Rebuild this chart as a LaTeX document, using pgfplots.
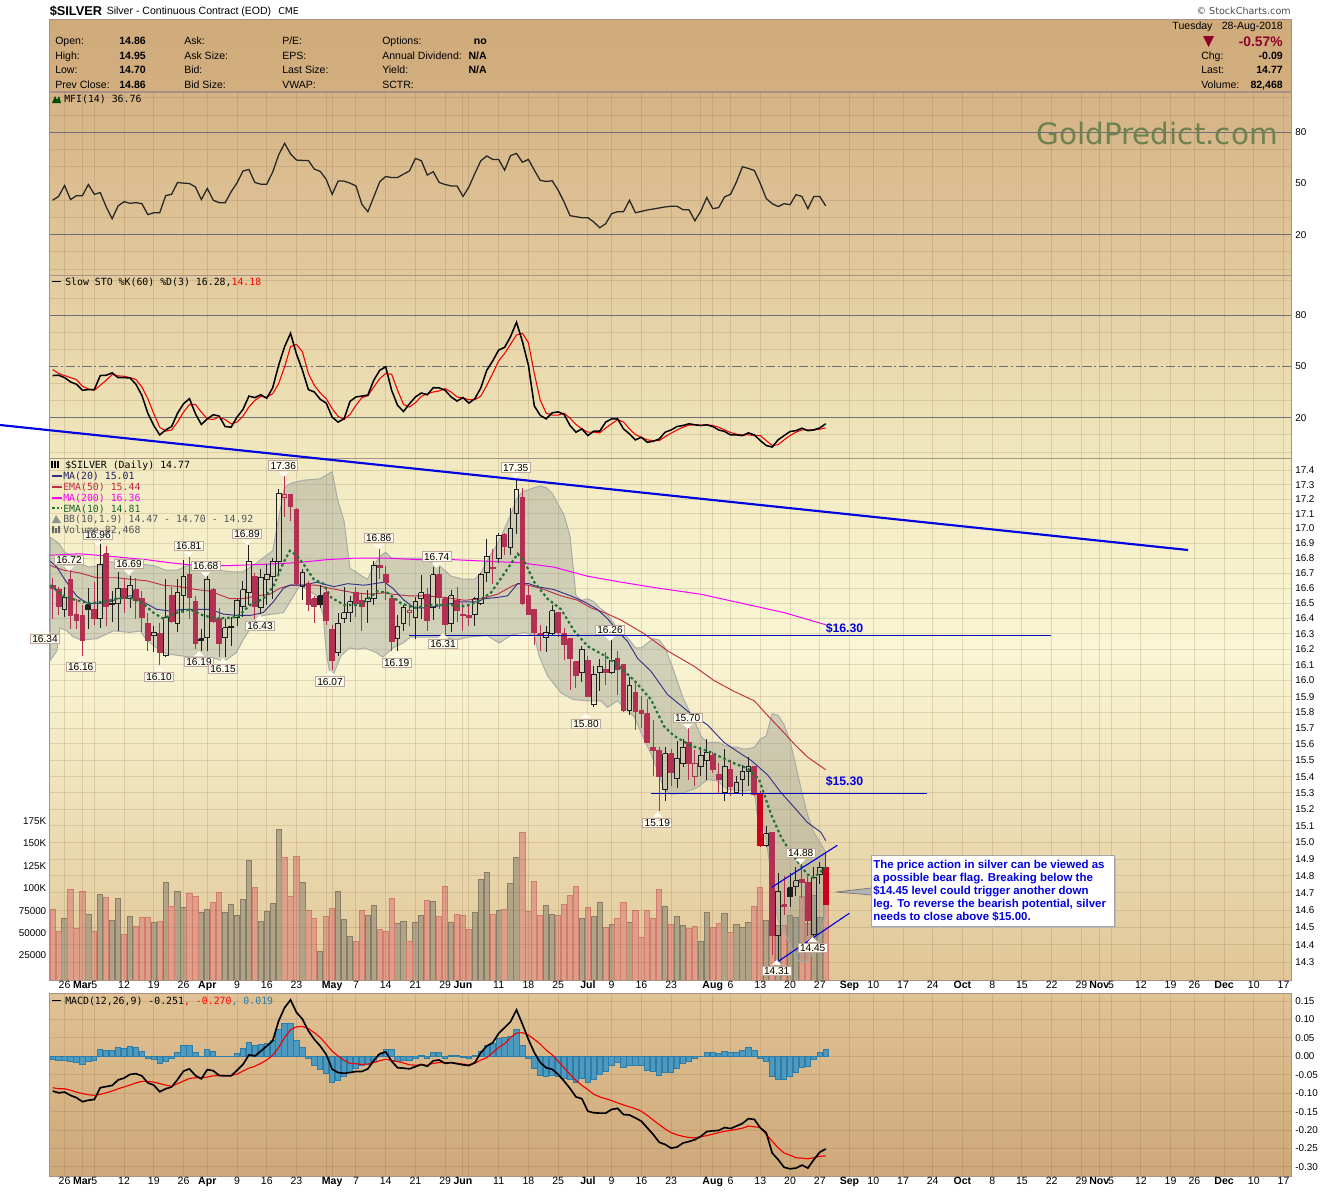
\documentclass[border=0pt]{standalone}
\usepackage{fontspec}
\setmainfont{Liberation Sans}
\newfontfamily\monof{DejaVu Sans Mono}
\newfontfamily\dvf{DejaVu Sans}
\usepackage{pgfplots}
\usepackage{pgfplotstable}
\pgfplotsset{compat=1.18}
\definecolor{framec}{RGB}{170,145,135}
\definecolor{gridc}{RGB}{125,95,60}
\definecolor{levelc}{RGB}{110,110,120}
\definecolor{candR}{RGB}{178,48,82}
\definecolor{candB}{RGB}{205,0,30}
\definecolor{candK}{RGB}{30,30,35}
\definecolor{volRf}{RGB}{222,155,135}
\definecolor{volRd}{RGB}{210,125,110}
\definecolor{volGf}{RGB}{172,160,132}
\definecolor{volGd}{RGB}{135,125,105}
\definecolor{bbf}{RGB}{140,148,140}
\definecolor{bbd}{RGB}{168,172,165}
\definecolor{histf}{RGB}{78,154,191}
\definecolor{histd}{RGB}{46,124,168}
\definecolor{ma20c}{RGB}{50,50,140}
\definecolor{ema50c}{RGB}{190,45,70}
\definecolor{emagr}{RGB}{35,115,55}
\definecolor{mag}{RGB}{250,0,250}
\definecolor{bluet}{RGB}{0,0,225}
\definecolor{levb}{RGB}{0,0,190}
\definecolor{callf}{RGB}{255,252,240}
\definecolor{calld}{RGB}{190,168,160}
\definecolor{crims}{RGB}{145,0,45}
\definecolor{wmark}{RGB}{110,130,80}

% i mfi k d macd signal hist
\pgfplotstableread{
i mfi k d macd sig hist
0 40.2 44.7 48.2 -0.094 -0.085 -0.009
1 42.5 44.9 45.9 -0.099 -0.088 -0.012
2 48.8 43.5 44.7 -0.097 -0.088 -0.011
3 40.6 41 43.5 -0.106 -0.092 -0.013
4 42.9 39.6 42.4 -0.112 -0.097 -0.016
5 42.9 36.1 38.4 -0.123 -0.101 -0.023
6 49.4 36.5 36.9 -0.119 -0.104 -0.014
7 43.7 36.5 36.1 -0.117 -0.106 -0.012
8 44.7 44.7 39 -0.085 -0.103 0.018
9 36.3 44.9 42 -0.082 -0.099 0.015
10 29.4 46.3 45.3 -0.079 -0.094 0.015
11 36.9 43.5 44.5 -0.064 -0.088 0.023
12 39.4 43.5 44.3 -0.059 -0.083 0.022
13 38.4 43.3 43.5 -0.049 -0.078 0.026
14 38.8 39.6 42.4 -0.047 -0.072 0.024
15 38.2 33.1 38 -0.053 -0.068 0.014
16 31.8 22.7 31.2 -0.072 -0.068 -0.005
17 32.9 15.5 22.4 -0.078 -0.070 -0.009
18 32.9 10 14.5 -0.096 -0.074 -0.020
19 42.9 12.9 12.2 -0.088 -0.078 -0.014
20 43.7 14.9 12.9 -0.083 -0.081 -0.006
21 50.6 22.7 17.5 -0.063 -0.074 0.011
22 50.2 28.2 23.3 -0.040 -0.067 0.029
23 50 31.2 27.8 -0.034 -0.060 0.029
24 48 22.4 27.8 -0.052 -0.058 0.011
25 40.6 16.1 23.3 -0.061 -0.059 -0.001
26 47.1 19.4 19.4 -0.036 -0.056 0.018
27 40.2 21.8 19 -0.039 -0.053 0.013
28 38.8 21 20.4 -0.052 -0.052 -0.001
29 38.8 14.9 19 -0.053 -0.052 -0.001
30 45.1 14.5 16.5 -0.053 -0.052 -0.001
31 50.4 20.4 17.5 -0.038 -0.048 0.009
32 57.3 24.9 21 -0.022 -0.040 0.021
33 58.2 32.7 26.3 0.004 -0.032 0.037
34 50.6 31.8 30.2 0.001 -0.027 0.030
35 49.6 33.5 32.5 0.014 -0.019 0.033
36 49.6 31.4 32.2 0.028 -0.010 0.034
37 56.7 37.6 34.1 0.042 0.003 0.042
38 66.7 50.8 40 0.096 0.024 0.072
39 73.5 61.6 49.8 0.132 0.051 0.088
40 67.3 69.4 61.6 0.153 0.072 0.088
41 63.7 57.3 62.9 0.119 0.080 0.044
42 63.5 47.8 58.6 0.101 0.081 0.024
43 63.5 36.5 45.9 0.069 0.075 -0.006
44 58.4 35.1 39 0.046 0.064 -0.025
45 57.1 30.8 34.5 0.028 0.051 -0.036
46 52.4 28.6 31.2 0.005 0.033 -0.047
47 43.7 20.4 25.3 -0.035 0.014 -0.071
48 51.4 17.5 20.8 -0.044 0.001 -0.065
49 51.4 19.4 19 -0.046 -0.011 -0.056
50 50.2 29.6 22 -0.044 -0.019 -0.043
51 48.6 32.2 27.3 -0.041 -0.020 -0.032
52 37.8 32.7 31.8 -0.041 -0.022 -0.025
53 33.5 33.3 32.9 -0.034 -0.021 -0.022
54 42.2 42 38 -0.011 -0.017 -0.014
55 51 47.8 42.9 0.007 -0.012 0.005
56 54.1 49.8 45.9 0.012 -0.008 0.018
57 53.5 36.1 45.5 -0.013 -0.011 0.018
58 53.5 27.3 36.1 -0.031 -0.014 -0.014
59 55.5 23.7 27.8 -0.032 -0.018 -0.012
60 57.3 28.2 26.3 -0.034 -0.023 -0.012
61 64.7 32.2 28.8 -0.028 -0.024 -0.007
62 63.3 34.5 32.5 -0.022 -0.023 0.003
63 54.9 33.5 34.1 -0.027 -0.024 -0.005
64 56.9 37.6 35.1 -0.012 -0.019 0.010
65 50.6 37.5 35.7 -0.010 -0.017 0.010
66 49.4 36.1 37.1 -0.019 -0.017 -0.005
67 48.6 32.2 35.1 -0.017 -0.017 0.003
68 48.6 29.8 32.2 -0.020 -0.019 0.002
69 42.4 31.8 31.6 -0.023 -0.021 -0.004
70 48 28.6 30.6 -0.025 -0.023 -0.006
71 55.9 31.2 30.6 -0.017 -0.019 0.001
72 63.3 37.5 32.7 0.010 -0.010 0.014
73 66.1 47.8 39 0.028 -0.004 0.030
74 64.1 53.3 45.9 0.037 0.010 0.034
75 64.1 59.6 53.3 0.062 0.024 0.048
76 57.8 61.2 57.6 0.078 0.034 0.050
77 66.3 67.5 63.1 0.094 0.051 0.053
78 67.6 75.9 68.4 0.126 0.063 0.073
79 62.4 64.5 69.4 0.087 0.064 0.030
80 64.1 50.8 63.9 0.046 0.058 -0.005
81 57.8 26.9 45.9 0.010 0.046 -0.032
82 51.8 21.4 30.2 -0.017 0.033 -0.051
83 51.2 19.4 22.7 -0.031 0.017 -0.056
84 51.6 22.9 21.6 -0.035 0.004 -0.051
85 46.1 23.5 21.6 -0.049 -0.013 -0.055
86 39.2 22 22.7 -0.067 -0.031 -0.059
87 31.2 15.5 19.8 -0.087 -0.049 -0.063
88 30.6 11.6 16.1 -0.110 -0.065 -0.070
89 30 13.5 13.5 -0.115 -0.079 -0.061
90 30 9.6 11.6 -0.149 -0.090 -0.072
91 27.5 12.2 11.6 -0.153 -0.103 -0.064
92 24.1 12.2 11.2 -0.154 -0.110 -0.050
93 26.5 17.5 14.1 -0.154 -0.115 -0.040
94 32.4 19.4 16.5 -0.144 -0.120 -0.026
95 33.5 19.4 19 -0.141 -0.126 -0.017
96 33.5 13.5 17.5 -0.158 -0.132 -0.029
97 40.2 10.6 13.5 -0.159 -0.137 -0.024
98 32.9 7.1 10.2 -0.167 -0.142 -0.026
99 33.7 8.6 8.6 -0.176 -0.149 -0.026
100 34.5 5.7 7.1 -0.194 -0.160 -0.038
101 35.1 6.3 6.7 -0.212 -0.173 -0.042
102 35.7 7.6 6.7 -0.233 -0.185 -0.053
103 36.3 11.6 9 -0.239 -0.197 -0.044
104 36.7 12.9 11 -0.249 -0.207 -0.044
105 36.7 14.9 12.9 -0.246 -0.213 -0.034
106 34.7 15.5 14.5 -0.235 -0.217 -0.020
107 34.7 16.5 15.7 -0.231 -0.220 -0.015
108 28.2 15.9 15.9 -0.226 -0.221 -0.006
109 33.9 15.5 15.7 -0.217 -0.218 0.000
110 41.8 15.9 15.9 -0.204 -0.215 0.010
111 35.3 14.9 15.5 -0.202 -0.211 0.010
112 35.9 12.9 14.5 -0.201 -0.207 0.007
113 42.2 12 12.9 -0.193 -0.203 0.014
114 43.7 10 11.4 -0.196 -0.201 0.010
115 51 10 10.4 -0.189 -0.198 0.010
116 59.8 9.6 10 -0.182 -0.195 0.016
117 58.8 11.2 10 -0.169 -0.189 0.024
118 57.6 10 9.6 -0.171 -0.191 0.015
119 50 6.7 9.6 -0.194 -0.193 -0.006
120 41.2 3.8 6.7 -0.207 -0.212 -0.014
121 38.2 2.9 3.8 -0.262 -0.230 -0.055
122 36.5 7.1 4.3 -0.280 -0.248 -0.063
123 38.2 9.6 7.1 -0.301 -0.262 -0.064
124 37.6 12 9.6 -0.305 -0.268 -0.056
125 43.5 12.5 11.6 -0.303 -0.275 -0.043
126 42.4 13.9 12.9 -0.295 -0.276 -0.029
127 35.3 12.5 12.9 -0.303 -0.278 -0.028
128 42.4 12.9 12.9 -0.280 -0.275 -0.009
129 42.4 14.1 13.3 -0.260 -0.271 0.010
130 36.9 16.5 14.1 -0.251 -0.270 0.019
}\ind

\pgfplotsset{
 base/.style={scale only axis,width=931.5pt,xmin=-0.622,xmax=208.25,
  axis line style={draw=framec,line width=.75pt},tick style={draw=none},no markers,
  xtick={2,7,12,17,22,31,36,41,46,51,56,61,66,70,75,80,85,94,99,104,109,114,119,124,129,138,143,148,158,163,168,173,178,183,188,192,202,207},
  extra x ticks={5,26,47,69,90,111,134,153,176,197},
  extra x tick style={grid=major,major grid style={draw=gridc,draw opacity=.4,line width=.75pt}},
  xticklabels={},extra x tick labels={},
  xmajorgrids,ymajorgrids,
  major x grid style={draw=gridc,draw opacity=.19,line width=.75pt},
  yticklabel pos=right,ytick pos=right,
  y tick label style={font=\fontsize{7.4}{9}\selectfont,inner sep=0pt,xshift=3pt},
  /pgf/number format/assume math mode=true,
 },
 xlab/.style={
  xticklabels={26,5,12,19,26,9,16,23,{},7,14,21,29,{},11,18,25,9,16,23,{},6,13,20,27,10,17,24,8,15,22,29,5,12,19,26,10,17},
  extra x tick labels={\textbf{Mar},\textbf{Apr},\textbf{May},\textbf{Jun},\textbf{Jul},\textbf{Aug},\textbf{Sep},\textbf{Oct},\textbf{Nov},\textbf{Dec}},
  x tick label style={font=\fontsize{7.9}{9}\selectfont,inner sep=0pt,text height=6pt,text depth=0pt,anchor=north,yshift=0pt},
 },
}
\newcommand\candle[7]{%
 \pgfmathsetmacro\xa{#1-0.4}\pgfmathsetmacro\xb{#1+0.4}%
 \addplot[draw=#6,line width=.75pt] coordinates {(#1,#4)(#1,#2)};%
 \addplot[draw=#6,line width=.75pt] coordinates {(#1,#3)(#1,#5)};%
 \edef\tmpc{\noexpand\addplot[draw=#6,fill=#7,line width=.75pt] coordinates {(\xa,#2)(\xb,#2)(\xb,#3)(\xa,#3)(\xa,#2)};}\tmpc}
\newcommand\cR[5]{\candle{#1}{#2}{#3}{#4}{#5}{candR}{candR}}
\newcommand\cH[5]{\candle{#1}{#2}{#3}{#4}{#5}{candK}{none}}
\newcommand\cK[5]{\candle{#1}{#2}{#3}{#4}{#5}{candK}{candK}}
\newcommand\cP[5]{\candle{#1}{#2}{#3}{#4}{#5}{candR}{none}}
\newcommand\cB[5]{\candle{#1}{#2}{#3}{#4}{#5}{candB}{candB}}
% text helpers, positions in reference pixels
\newcommand\tl[3]{\node[anchor=base west,inner sep=0pt] at (#1,#2) {\fontsize{7.9}{9}\selectfont #3};}
\newcommand\tb[3]{\node[anchor=base west,inner sep=0pt,text=bluet] at (#1,#2) {\fontsize{8.6}{9}\selectfont\textbf{#3}};}
\newcommand\tr[3]{\node[anchor=base east,inner sep=0pt] at (#1,#2) {\fontsize{7.9}{9}\selectfont #3};}
\newcommand\tm[3]{\node[anchor=base west,inner sep=0pt] at (#1,#2) {\fontsize{7.4}{9}\selectfont\monof #3};}
% price callouts: \cu above a high (pointer down), \cd below a low (pointer up)
\newcommand\cu[3]{\fill[callf] (#1-5,#2+6) -- (#1,#2+11) -- (#1+5,#2+6) -- cycle;
 \node[fill=callf,draw=calld,line width=.75pt,inner xsep=1.5pt,inner ysep=1pt] at (#1,#2) {\fontsize{7.6}{8}\selectfont #3};}
\newcommand\cd[3]{\fill[callf] (#1-5,#2-6) -- (#1,#2-11) -- (#1+5,#2-6) -- cycle;
 \node[fill=callf,draw=calld,line width=.75pt,inner xsep=1.5pt,inner ysep=1pt] at (#1,#2) {\fontsize{7.6}{8}\selectfont #3};}

\begin{document}
\begin{tikzpicture}[x=0.75pt,y=-0.75pt]
\useasboundingbox (0,0) rectangle (1340,1192);
% panel backgrounds
\shade[top color={rgb,255:red,207;green,170;blue,122},bottom color={rgb,255:red,211;green,175;blue,128}] (49,19) rectangle (1291,92);
\shade[top color={rgb,255:red,213;green,179;blue,134},bottom color={rgb,255:red,225;green,201;blue,156}] (49,92) rectangle (1291,275);
\shade[top color={rgb,255:red,226;green,203;blue,158},bottom color={rgb,255:red,241;green,232;blue,190}] (49,275) rectangle (1291,458);
\shade[top color={rgb,255:red,241;green,233;blue,192},bottom color={rgb,255:red,250;green,246;blue,213}] (49,458) rectangle (1291,650);
\shade[top color={rgb,255:red,250;green,246;blue,213},bottom color={rgb,255:red,224;green,198;blue,150}] (49,650) rectangle (1291,980);
\shade[top color={rgb,255:red,224;green,194;blue,148},bottom color={rgb,255:red,205;green,168;blue,122}] (49,993) rectangle (1291,1176);
\draw[framec,line width=.75pt] (49,19) rectangle (1291,92);

% MFI
\begin{axis}[base,at={(36.75pt,-206.25pt)},anchor=south west,height=137.25pt,ymin=-3.5,ymax=103.5,
 ytick={20,80},yticklabels={20,80},extra y ticks={50},extra y tick labels={50},extra y tick style={grid=none},
 major y grid style={draw=levelc,line width=.9pt},
 minor ytick={0,10,30,40,60,70,90,100},yminorgrids,minor y grid style={draw=gridc,draw opacity=.18,line width=.75pt}]
\addplot[black!85,line width=.95pt] table[x=i,y=mfi]{\ind};
\end{axis}

% Slow stochastics
\begin{axis}[base,at={(36.75pt,-343.5pt)},anchor=south west,height=137.25pt,ymin=-3.5,ymax=103.5,
 ytick={20,80},yticklabels={20,80},extra y ticks={50},extra y tick labels={50},extra y tick style={grid=none},
 major y grid style={draw=levelc,line width=.9pt},
 minor ytick={0,10,30,40,60,70,90,100},yminorgrids,minor y grid style={draw=gridc,draw opacity=.18,line width=.75pt}]
\draw[levelc,line width=.9pt,dash pattern=on 7pt off 2pt on 1.5pt off 2pt] (axis cs:-0.622,50) -- (axis cs:208.25,50);
\addplot[red!95!black,line width=.8pt] table[x=i,y=d]{\ind};
\addplot[black,line width=1.15pt] table[x=i,y=k]{\ind};
\end{axis}

% Volume (behind the price panel); the filter lifts the zero of the bars to the panel's bottom edge
\begin{axis}[scale only axis,width=931.5pt,height=391.5pt,at={(36.75pt,-735pt)},anchor=south west,
 xmin=-0.622,xmax=208.25,ymin=0,ymax=584000,
 y filter/.expression={y+3000},
 axis lines=none,clip=true]
\addplot[ybar,bar width=3.95pt,bar shift=0pt,draw=volGd,fill=volGf,fill opacity=.9,line width=.75pt] coordinates {
(2,66000)(6,70500)(8,92800)(10,63700)(11,88400)(13,68200)(17,61500)(19,106300)(21,96200)(22,78300)(25,72700)(26,76100)(29,72700)(30,81600)(31,69300)(32,87200)(33,130900)(35,62600)(36,73800)(37,82800)(38,165600)(42,106300)(45,29100)(48,96200)(49,64900)(50,45800)(53,69300)(54,80500)(58,60400)(59,62600)(61,61500)(62,69300)(64,85000)(67,61500)(71,72700)(72,109600)(73,117500)(75,74900)(77,105100)(78,134200)(83,80500)(84,70500)(89,66000)(91,68200)(92,83900)(94,59300)(97,61500)(103,79400)(105,68200)(106,58100)(109,40200)(110,72700)(113,71600)(115,59300)(116,55900)(117,61500)(120,63700)(122,58500)(124,69300)(125,67100)(128,92100)(129,67100)};
\addplot[ybar,bar width=3.95pt,bar shift=0pt,draw=volRd,fill=volRf,fill opacity=.9,line width=.75pt] coordinates {
(0,76100)(1,51400)(3,98400)(4,54800)(5,96200)(7,51400)(9,89500)(12,48100)(14,57000)(15,67100)(16,67100)(18,62600)(20,79400)(23,94000)(24,90600)(27,83900)(28,95100)(34,100700)(39,134200)(40,90600)(41,135400)(43,74900)(44,66000)(46,68200)(47,77200)(51,40200)(52,74900)(55,53700)(56,51400)(57,88400)(60,40200)(63,86100)(65,68200)(66,101800)(68,70500)(69,69300)(70,53700)(74,70500)(76,76100)(79,162200)(80,73800)(81,107400)(82,69300)(85,69300)(86,81600)(87,91700)(88,101800)(90,78300)(93,55900)(95,66000)(96,83900)(98,74900)(99,44700)(100,74900)(101,66000)(102,98400)(104,59300)(107,54800)(108,57000)(111,55900)(112,60400)(114,50300)(118,79400)(119,100700)(121,80900)(123,58500)(126,90200)(127,60400)(130,82468)};
\end{axis}

% Price: the scale is logarithmic, as in the reference
\begin{axis}[base,xlab,at={(36.75pt,-735pt)},anchor=south west,height=391.5pt,
 y coord trafo/.code={\pgfmathparse{ln(#1)*100}},
 ymin=14.198,ymax=17.484,
 ytick={14.3,14.4,14.5,14.6,14.7,14.8,14.9,15,15.1,15.2,15.3,15.4,15.5,15.6,15.7,15.8,15.9,16,16.1,16.2,16.3,16.4,16.5,16.6,16.7,16.8,16.9,17,17.1,17.2,17.3,17.4},
 yticklabels={14.3,14.4,14.5,14.6,14.7,14.8,14.9,15.0,15.1,15.2,15.3,15.4,15.5,15.6,15.7,15.8,15.9,16.0,16.1,16.2,16.3,16.4,16.5,16.6,16.7,16.8,16.9,17.0,17.1,17.2,17.3,17.4},
 major y grid style={draw=gridc,draw opacity=.18,line width=.75pt},clip=false]
% Bollinger band
\addplot[draw=bbd,fill=bbf,fill opacity=.36,line width=.75pt] coordinates {
(-0.4,16.94)(0,16.93)(1,16.90)(2,16.84)(3,16.82)(4,16.81)(5,16.76)(6,16.74)(8,16.75)(9,16.78)(11,16.77)(13,16.77)(15,16.76)(17,16.75)(19,16.72)(21,16.72)(23,16.76)(26,16.73)(30,16.71)(32,16.71)(34,16.76)(36,16.82)(37,16.85)(38,17.07)(39,17.28)(40,17.31)(42,17.33)(45,17.34)(47,17.39)(47.9,17.2)(49,17.05)(50,16.73)(51,16.71)(52,16.68)(53,16.66)(54,16.75)(55,16.81)(56,16.84)(57,16.80)(59,16.80)(62,16.80)(65,16.75)(67,16.68)(69,16.66)(71,16.66)(72,16.70)(73,16.78)(75,16.91)(77,17.09)(78,17.20)(79,17.25)(81,17.28)(82,17.29)(83,17.28)(84,17.24)(86,17.09)(87,16.95)(88,16.55)(89,16.52)(90,16.53)(91,16.51)(92,16.47)(93,16.44)(94,16.39)(95,16.33)(96,16.30)(97,16.26)(98,16.21)(99,16.21)(100,16.24)(101,16.27)(102,16.26)(103,16.21)(104,16.11)(105,16.0)(106,15.89)(107,15.81)(108,15.74)(109,15.65)(110,15.61)(111,15.61)(112,15.61)(113,15.59)(114,15.58)(115,15.58)(116,15.57)(117,15.57)(118,15.58)(119,15.63)(120,15.65)(121,15.79)(122,15.78)(123,15.72)(124,15.62)(125,15.46)(126,15.30)(127,15.16)(128,15.06)(129,15.00)(130,14.94)
(130,14.59)(129.1,14.45)(128,14.37)(126.9,14.30)(125.2,14.31)(123.6,14.43)(121.9,14.55)(120.8,14.82)(119.6,15.10)(118.5,15.16)(118,15.32)(116.3,15.31)(113.5,15.32)(111.8,15.37)(110.1,15.38)(108.4,15.33)(106.2,15.30)(104,15.29)(102.8,15.32)(101.7,15.44)(100.6,15.54)(99.2,15.65)(97.8,15.77)(96.4,15.82)(95,15.87)(93.3,15.83)(92.2,15.87)(90,15.87)(87.5,15.88)(85.5,15.92)(83.2,16.03)(81.8,16.16)(81,16.29)(79.3,16.31)(77,16.29)(75.1,16.24)(73.1,16.29)(70,16.28)(67.8,16.26)(65.8,16.28)(63.9,16.28)(61.9,16.28)(60.2,16.28)(58.9,16.24)(57.2,16.21)(55.5,16.15)(54.4,16.18)(52.4,16.21)(51.3,16.20)(49.9,16.21)(48.5,16.16)(47.3,16.05)(46.6,16.05)(46,16.18)(45.5,16.42)(44.4,16.55)(41.6,16.62)(38.8,16.44)(35.4,16.42)(34.3,16.40)(32,16.26)(30.9,16.18)(28.7,16.12)(27.6,16.14)(25.3,16.14)(21.4,16.16)(19.2,16.17)(17.5,16.21)(15.8,16.26)(14.7,16.32)(13,16.31)(10.2,16.32)(7.4,16.27)(4.9,16.26)(3.5,16.28)(2.4,16.32)(1.2,16.34)(0.7,16.19)(-0.4,16.13)(-0.4,16.94)};
% middle Bollinger line
\addplot[bbd!70!white,line width=.8pt,dash pattern=on 1.5pt off 1.5pt] coordinates {
(0,16.58)(5,16.52)(10,16.50)(15,16.52)(20,16.43)(25,16.43)(30,16.40)(33,16.44)(36,16.52)(37.7,16.62)(39.9,16.75)(41.6,16.83)(43.3,16.82)(45.5,16.75)(46.6,16.71)(50,16.55)(52.4,16.49)(55.8,16.55)(59.1,16.52)(61.9,16.49)(66.4,16.49)(69.8,16.49)(73.1,16.55)(75.4,16.65)(78.2,16.80)(81,16.75)(83.2,16.60)(85.5,16.51)(88.8,16.33)(91.6,16.16)(98.9,15.98)(102.3,15.81)(104.5,15.68)(108.4,15.60)(112.4,15.54)(116.8,15.46)(119.1,15.40)(121.3,15.22)(123.6,15.0)(125.8,14.86)(128,14.79)(130,14.70)};
% moving averages
\addplot[mag,line width=.75pt] coordinates {(-0.4,16.82)(4.6,16.83)(10.2,16.81)(15.8,16.79)(19.7,16.77)(24.2,16.75)(29.8,16.75)(35.4,16.76)(41,16.77)(46,16.79)(50.7,16.80)(56.3,16.80)(61.9,16.79)(67.5,16.79)(73.1,16.78)(78.7,16.77)(84.3,16.74)(89.9,16.68)(95.6,16.64)(102,16.60)(109,16.56)(116,16.50)(123,16.44)(130,16.36)};
\addplot[ema50c,line width=.7pt] coordinates {(-0.4,16.75)(1.8,16.72)(4.6,16.70)(7.4,16.67)(10.8,16.67)(13,16.66)(15.8,16.65)(18.6,16.62)(21.4,16.61)(24.2,16.59)(26.5,16.58)(29.8,16.53)(32,16.53)(34.3,16.55)(36.5,16.56)(38.2,16.60)(39.9,16.62)(42.2,16.62)(44.4,16.62)(46.6,16.60)(50.7,16.57)(53.5,16.56)(55.8,16.57)(57.2,16.56)(59.8,16.55)(62.6,16.55)(66,16.54)(69.3,16.52)(72.1,16.53)(74.8,16.56)(77.1,16.61)(78.2,16.63)(79.9,16.62)(82.1,16.60)(85.5,16.55)(88.3,16.52)(90.5,16.47)(92.8,16.44)(95.6,16.39)(99.5,16.30)(103.4,16.19)(107.9,16.09)(111.2,16.0)(114.6,15.93)(118,15.87)(120.2,15.78)(122.5,15.69)(124.7,15.60)(126.9,15.52)(130,15.44)};
\addplot[ma20c,line width=.7pt] coordinates {(-0.4,16.78)(0.7,16.74)(2,16.66)(2.9,16.61)(4,16.55)(5,16.52)(6,16.50)(7.8,16.50)(9.6,16.51)(10.9,16.53)(13,16.55)(14.1,16.55)(15.2,16.51)(17.5,16.46)(19.7,16.45)(22,16.46)(24.2,16.46)(26.5,16.46)(28.7,16.43)(31,16.42)(33.2,16.42)(35.4,16.44)(37.1,16.51)(38.8,16.60)(39.9,16.62)(42.2,16.62)(44.4,16.64)(47.3,16.61)(49.6,16.63)(52.4,16.62)(55.8,16.64)(57.2,16.60)(59.1,16.52)(60.8,16.47)(63,16.47)(65.8,16.49)(68.6,16.51)(71.4,16.51)(72.6,16.53)(74.8,16.54)(76.5,16.55)(78.2,16.63)(80.1,16.63)(81.5,16.61)(84.3,16.59)(87.1,16.55)(89.4,16.51)(91.6,16.46)(93.3,16.40)(95,16.32)(96.7,16.25)(98.4,16.14)(100.6,16.06)(103.4,15.91)(107.3,15.79)(110.1,15.72)(112.9,15.61)(115.7,15.54)(117.4,15.50)(120.2,15.41)(122.5,15.30)(125.2,15.19)(126.9,15.12)(129.2,15.06)(130,15.01)};
% candles: index, body top, body bottom, high, low
\cR{0}{16.62}{16.60}{16.67}{16.40}
\cR{1}{16.59}{16.48}{16.61}{16.42}
\cH{2}{16.54}{16.46}{16.61}{16.41}
\cR{3}{16.66}{16.42}{16.72}{16.33}
\cR{4}{16.43}{16.39}{16.53}{16.33}
\cR{5}{16.42}{16.26}{16.49}{16.16}
\cK{6}{16.49}{16.46}{16.60}{16.33}
\cR{7}{16.46}{16.40}{16.64}{16.36}
\cH{8}{16.76}{16.40}{16.96}{16.34}
\cR{9}{16.83}{16.48}{16.88}{16.35}
\cK{10}{16.50}{16.49}{16.58}{16.38}
\cH{11}{16.60}{16.50}{16.71}{16.32}
\cR{12}{16.60}{16.53}{16.67}{16.44}
\cH{13}{16.62}{16.53}{16.68}{16.47}
\cR{14}{16.59}{16.52}{16.67}{16.40}
\cR{15}{16.53}{16.41}{16.58}{16.31}
\cR{16}{16.37}{16.26}{16.44}{16.19}
\cH{17}{16.31}{16.29}{16.35}{16.18}
\cR{18}{16.30}{16.18}{16.37}{16.10}
\cH{19}{16.41}{16.16}{16.66}{16.15}
\cR{20}{16.55}{16.38}{16.61}{16.37}
\cH{21}{16.57}{16.37}{16.66}{16.31}
\cH{22}{16.68}{16.55}{16.79}{16.44}
\cR{23}{16.69}{16.54}{16.81}{16.40}
\cR{24}{16.51}{16.24}{16.55}{16.20}
\cK{25}{16.27}{16.26}{16.33}{16.19}
\cH{26}{16.66}{16.28}{16.68}{16.19}
\cR{27}{16.59}{16.38}{16.60}{16.37}
\cR{28}{16.40}{16.24}{16.47}{16.15}
\cH{29}{16.34}{16.28}{16.40}{16.15}
\cK{30}{16.35}{16.34}{16.41}{16.22}
\cH{31}{16.52}{16.41}{16.53}{16.35}
\cH{32}{16.59}{16.48}{16.65}{16.41}
\cH{33}{16.78}{16.57}{16.89}{16.49}
\cR{34}{16.68}{16.48}{16.70}{16.40}
\cH{35}{16.67}{16.47}{16.73}{16.43}
\cH{36}{16.69}{16.66}{16.76}{16.49}
\cH{37}{16.78}{16.68}{16.80}{16.53}
\cH{38}{17.24}{16.78}{17.27}{16.68}
\cP{39}{17.23}{17.21}{17.36}{17.08}
\cR{40}{17.23}{17.15}{17.23}{17.05}
\cR{41}{17.13}{16.63}{17.14}{16.62}
\cH{42}{16.70}{16.61}{16.73}{16.52}
\cR{43}{16.63}{16.49}{16.65}{16.45}
\cR{44}{16.53}{16.48}{16.55}{16.37}
\cK{45}{16.55}{16.49}{16.62}{16.47}
\cR{46}{16.57}{16.39}{16.61}{16.36}
\cR{47}{16.33}{16.13}{16.36}{16.07}
\cH{48}{16.37}{16.18}{16.44}{16.16}
\cH{49}{16.44}{16.40}{16.61}{16.37}
\cH{50}{16.51}{16.44}{16.55}{16.38}
\cR{51}{16.57}{16.50}{16.61}{16.41}
\cR{52}{16.52}{16.48}{16.56}{16.32}
\cH{53}{16.53}{16.51}{16.59}{16.37}
\cH{54}{16.75}{16.53}{16.78}{16.49}
\cR{55}{16.75}{16.74}{16.86}{16.66}
\cR{56}{16.69}{16.64}{16.75}{16.52}
\cR{57}{16.53}{16.25}{16.54}{16.19}
\cH{58}{16.35}{16.27}{16.42}{16.19}
\cH{59}{16.47}{16.37}{16.49}{16.32}
\cP{60}{16.45}{16.44}{16.49}{16.35}
\cH{61}{16.51}{16.41}{16.54}{16.27}
\cH{62}{16.57}{16.53}{16.69}{16.40}
\cR{63}{16.56}{16.39}{16.60}{16.32}
\cH{64}{16.69}{16.47}{16.74}{16.39}
\cR{65}{16.69}{16.54}{16.74}{16.46}
\cR{66}{16.53}{16.36}{16.53}{16.29}
\cH{67}{16.55}{16.37}{16.59}{16.31}
\cR{68}{16.52}{16.45}{16.61}{16.38}
\cP{69}{16.43}{16.42}{16.50}{16.32}
\cR{70}{16.42}{16.41}{16.48}{16.35}
\cH{71}{16.53}{16.43}{16.54}{16.35}
\cH{72}{16.69}{16.50}{16.70}{16.49}
\cH{73}{16.81}{16.70}{16.93}{16.64}
\cR{74}{16.74}{16.73}{16.86}{16.63}
\cH{75}{16.95}{16.80}{16.97}{16.77}
\cR{76}{16.96}{16.88}{16.97}{16.82}
\cH{77}{17.0}{16.87}{17.14}{16.82}
\cH{78}{17.27}{17.10}{17.35}{16.96}
\cR{79}{17.21}{16.50}{17.28}{16.49}
\cR{80}{16.55}{16.43}{16.62}{16.42}
\cR{81}{16.46}{16.31}{16.46}{16.23}
\cR{82}{16.30}{16.29}{16.36}{16.19}
\cH{83}{16.31}{16.28}{16.35}{16.18}
\cH{84}{16.45}{16.30}{16.49}{16.29}
\cR{85}{16.44}{16.31}{16.44}{16.28}
\cR{86}{16.30}{16.23}{16.34}{16.13}
\cR{87}{16.27}{16.14}{16.27}{15.94}
\cR{88}{16.12}{16.03}{16.12}{15.95}
\cH{89}{16.20}{16.05}{16.22}{15.99}
\cR{90}{16.13}{15.90}{16.16}{15.90}
\cH{91}{16.04}{15.85}{16.09}{15.83}
\cH{92}{16.09}{16.05}{16.14}{15.93}
\cR{93}{16.07}{16.05}{16.18}{15.97}
\cH{94}{16.13}{16.05}{16.26}{16.04}
\cR{95}{16.14}{16.07}{16.19}{15.91}
\cR{96}{16.10}{15.81}{16.10}{15.80}
\cH{97}{15.97}{15.81}{16.02}{15.78}
\cR{98}{15.92}{15.80}{15.99}{15.69}
\cR{99}{15.81}{15.79}{15.90}{15.70}
\cR{100}{15.79}{15.61}{15.88}{15.61}
\cR{101}{15.58}{15.56}{15.75}{15.40}
\cR{102}{15.56}{15.40}{15.58}{15.19}
\cH{103}{15.54}{15.32}{15.58}{15.25}
\cR{104}{15.54}{15.42}{15.57}{15.34}
\cH{105}{15.51}{15.39}{15.62}{15.33}
\cH{106}{15.58}{15.48}{15.63}{15.46}
\cR{107}{15.61}{15.48}{15.70}{15.38}
\cP{108}{15.48}{15.40}{15.56}{15.34}
\cH{109}{15.53}{15.46}{15.58}{15.40}
\cH{110}{15.55}{15.50}{15.63}{15.38}
\cR{111}{15.53}{15.44}{15.55}{15.42}
\cR{112}{15.41}{15.38}{15.48}{15.30}
\cH{113}{15.46}{15.30}{15.57}{15.25}
\cR{114}{15.44}{15.34}{15.50}{15.28}
\cH{115}{15.36}{15.30}{15.40}{15.30}
\cH{116}{15.43}{15.38}{15.47}{15.28}
\cH{117}{15.46}{15.43}{15.52}{15.34}
\cR{118}{15.46}{15.29}{15.46}{15.28}
\cB{119}{15.29}{14.98}{15.31}{14.97}
\cH{120}{15.05}{14.98}{15.10}{14.97}
\cR{121}{15.06}{14.45}{15.06}{14.34}
\cH{122}{14.71}{14.45}{14.82}{14.31}
\cR{123}{14.63}{14.62}{14.80}{14.57}
\cK{124}{14.73}{14.68}{14.82}{14.62}
\cH{125}{14.77}{14.74}{14.85}{14.68}
\cR{126}{14.78}{14.76}{14.87}{14.67}
\cR{127}{14.76}{14.54}{14.80}{14.45}
\cH{128}{14.79}{14.46}{14.85}{14.45}
\cH{129}{14.85}{14.81}{14.88}{14.75}
\cB{130}{14.85}{14.63}{14.94}{14.63}
% EMA(10)
\addplot[emagr,line width=1.65pt,dash pattern=on 2pt off 2pt] coordinates {(-0.4,16.62)(1.8,16.55)(4,16.52)(6.3,16.50)(8.5,16.51)(10.8,16.53)(13,16.54)(15.2,16.50)(16.9,16.44)(18.6,16.40)(20.9,16.44)(23.1,16.46)(25.3,16.42)(27.6,16.40)(31,16.41)(33.2,16.49)(35.4,16.53)(37.1,16.61)(38.8,16.77)(39.9,16.85)(41,16.82)(42.2,16.76)(43.9,16.66)(45.5,16.63)(46.8,16.54)(49,16.49)(51.8,16.49)(54.6,16.58)(56.3,16.57)(58.6,16.50)(60.8,16.47)(63.6,16.49)(66.4,16.49)(69.3,16.48)(71.4,16.51)(73.7,16.57)(76,16.70)(78.2,16.83)(79.3,16.78)(81,16.64)(83.2,16.53)(85.5,16.46)(87.7,16.32)(90,16.22)(92.8,16.16)(95,16.10)(97.8,16.0)(100.6,15.88)(102.8,15.71)(104.5,15.65)(107.3,15.59)(110.6,15.55)(114.6,15.48)(116.8,15.45)(118.8,15.38)(120.8,15.17)(122.5,15.03)(124.1,14.94)(126.9,14.81)(128,14.79)(130,14.85)};
\end{axis}

% MACD
\begin{axis}[base,xlab,at={(36.75pt,-882pt)},anchor=south west,height=137.25pt,ymin=-0.3245,ymax=0.1717,
 ytick={-0.30,-0.25,-0.20,-0.15,-0.10,-0.05,0,0.05,0.10,0.15},
 yticklabels={-0.30,-0.25,-0.20,-0.15,-0.10,-0.05,0.00,0.05,0.10,0.15},
 major y grid style={draw=gridc,draw opacity=.18,line width=.75pt}]
\addplot[ybar,bar width=4pt,bar shift=0pt,draw=histd,fill=histf,line width=.75pt] table[x=i,y=hist]{\ind};
\addplot[red!95!black,line width=.85pt] table[x=i,y=sig]{\ind};
\addplot[black,line width=1.25pt] table[x=i,y=macd]{\ind};
\end{axis}

% annotations on the price panel
\draw[bluet,line width=1.6pt] (0,425) -- (1188,550);
\draw[levb,line width=.75pt] (409,635) -- (1051,635);
\draw[levb,line width=.75pt] (651,793) -- (927,793);
\draw[bluet,line width=.85pt] (771.7,887.3) -- (837.3,845.3);
\draw[bluet,line width=.85pt] (777.7,961.7) -- (849.3,913.3);
\node[bluet,anchor=base west,inner sep=0pt] at (825.5,632) {\fontsize{9.2}{10}\selectfont\textbf{\$16.30}};
\node[bluet,anchor=base west,inner sep=0pt] at (825.5,785) {\fontsize{9.2}{10}\selectfont\textbf{\$15.30}};
\cu{69}{560}{16.72}\cd{45}{639}{16.34}\cd{80.7}{667}{16.16}\cu{98}{535}{16.96}
\cu{129}{564}{16.69}\cu{188.7}{546}{16.81}\cu{205.7}{566}{16.68}\cu{247}{534}{16.89}
\cu{283.3}{465.7}{17.36}\cd{260}{626}{16.43}\cd{199}{662}{16.19}\cd{159}{677}{16.10}
\cd{223}{669}{16.15}\cd{330}{681.7}{16.07}\cu{378.7}{538}{16.86}\cu{436.7}{556.7}{16.74}
\cd{396.7}{663}{16.19}\cd{443}{644}{16.31}\cu{515.7}{467.7}{17.35}\cu{610}{630}{16.26}
\cd{586}{724}{15.80}\cu{687.7}{718}{15.70}\cd{657.3}{823}{15.19}\cu{800.7}{853}{14.88}
\cd{812.7}{948}{14.45}\cd{776.7}{971}{14.31}
% comment box
\fill[black!28] (874,858) rectangle (1116,928);
\fill[white,draw=black!35,line width=.5pt] (871,855.5) rectangle (1114,926);
\fill[black!30] (836,892) -- (871,888) -- (871,895) -- cycle;
\draw[black!55,line width=.5pt] (871,888) -- (836,892) -- (871,895);
\tb{873}{868}{The price action in silver can be viewed as}
\tb{873}{881}{a possible bear flag. Breaking below the}
\tb{873}{894}{\$14.45 level could trigger another down}
\tb{873}{907}{leg. To reverse the bearish potential, silver}
\tb{873}{920}{needs to close above \$15.00.}

% price panel legend
\draw[black,line width=.8pt] (52,461) -- (52,468) (55,461) -- (55,468) (58,461) -- (58,468);
\tm{65}{468}{\$SILVER (Daily) 14.77}
\draw[ma20c,line width=1.3pt] (52,475.7) -- (61.5,475.7);\tm{63}{479.3}{\textcolor{ma20c!70!black}{MA(20) 15.01}}
\draw[ema50c,line width=1.3pt] (52,486.7) -- (61.5,486.7);\tm{63}{490.3}{\textcolor{ema50c}{EMA(50) 15.44}}
\draw[mag,line width=1.3pt] (52,497.7) -- (61.5,497.7);\tm{63}{501.3}{\textcolor{mag}{MA(200) 16.36}}
\draw[emagr,line width=1.5pt,dash pattern=on 2pt off 1.5pt] (52,508.3) -- (61.5,508.3);\tm{63}{512}{\textcolor{emagr!85!black}{EMA(10) 14.81}}
\fill[bbf] (52,523) -- (56,515) -- (61,523) -- cycle;\tm{63}{522.7}{\textcolor{black!40!bbf}{BB(10,1.9) 14.47 - 14.70 - 14.92}}
\fill[black!60] (52,526) rectangle (54,533) (55,528) rectangle (57,533) (58,526) rectangle (60,533);\tm{63}{533.4}{\textcolor{black!65}{Volume 82,468}}

% indicator legends
\fill[green!30!black] (52,103) -- (55,96) -- (57,100) -- (59,96) -- (61,103) -- cycle;
\tm{64}{102}{MFI(14) 36.76}
\draw[black,line width=1.4pt] (52,281.5) -- (61,281.5);
\tm{65}{285}{Slow STO \%K(60) \%D(3) 16.28,\textcolor{red}{ 14.18}}
\draw[black,line width=1.4pt] (52,1000.5) -- (61,1000.5);
\tm{65}{1004}{MACD(12,26,9) -0.251\textcolor{red}{, -0.270}\textcolor{histd}{, 0.019}}
% watermark
\node[anchor=base west,inner sep=0pt,text=wmark] at (1036,144) {\fontsize{22.1}{26}\selectfont\dvf GoldPredict.com};

% volume scale
\foreach \vy/\vt in {955/25000,933/50000,911/75000,888/100K,866/125K,843/150K,821/175K}
 \node[anchor=east,inner sep=0pt] at (46.5,\vy) {\fontsize{7.4}{9}\selectfont\vt};

% header text
\node[anchor=base west,inner sep=0pt] at (49.5,15.5) {\fontsize{9.6}{11}\selectfont\textbf{\$SILVER}};
\node[anchor=base west,inner sep=0pt] at (106.5,15) {\fontsize{7.9}{9}\selectfont Silver - Continuous Contract (EOD)};
\node[anchor=base west,inner sep=0pt] at (278,15) {\fontsize{7}{9}\selectfont\dvf CME};
\node[anchor=base east,inner sep=0pt,text=black!70] at (1291,15) {\fontsize{7.2}{9}\selectfont\dvf © StockCharts.com};
\tl{55}{44}{Open:}\tl{55}{59}{High:}\tl{55}{73}{Low:}\tl{55}{88}{Prev Close:}
\tr{146}{44}{\textbf{14.86}}\tr{146}{59}{\textbf{14.95}}\tr{146}{73}{\textbf{14.70}}\tr{146}{88}{\textbf{14.86}}
\tl{184}{44}{Ask:}\tl{184}{59}{Ask Size:}\tl{184}{73}{Bid:}\tl{184}{88}{Bid Size:}
\tl{282}{44}{P/E:}\tl{282}{59}{EPS:}\tl{282}{73}{Last Size:}\tl{282}{88}{VWAP:}
\tl{382}{44}{Options:}\tl{382}{59}{Annual Dividend:}\tl{382}{73}{Yield:}\tl{382}{88}{SCTR:}
\tr{487}{44}{\textbf{no}}\tr{487}{59}{\textbf{N/A}}\tr{487}{73}{\textbf{N/A}}
\tr{1283}{30}{Tuesday\hspace{7pt}28-Aug-2018}
\fill[crims] (1203,36) -- (1214,36) -- (1208.5,47) -- cycle;
\node[anchor=base east,inner sep=0pt,text=crims] at (1283,46) {\fontsize{10.4}{12}\selectfont\textbf{-0.57\%}};
\tl{1201}{59}{Chg:}\tl{1201}{73}{Last:}\tl{1201}{88}{Volume:}
\tr{1283}{59}{\textbf{-0.09}}\tr{1283}{73}{\textbf{14.77}}\tr{1283}{88}{\textbf{82,468}}
\end{tikzpicture}
\end{document}
